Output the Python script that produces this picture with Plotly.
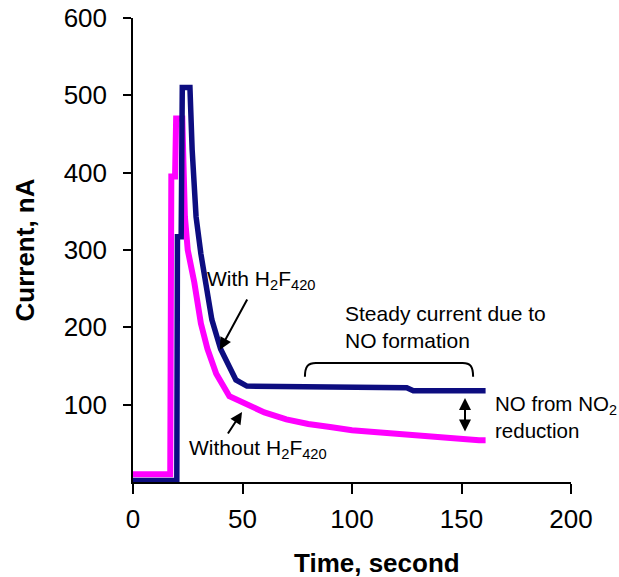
import plotly.graph_objects as go

# Without H2F420 (magenta)
t_without = [0, 17, 17.5, 19.2, 19.7, 22.5, 23.7, 25, 28, 31, 34, 38, 44, 50, 60, 70, 80, 90, 100, 113, 125, 136, 148, 158, 161]
i_without = [10, 10, 395, 395, 470, 470, 343, 300, 258, 205, 172, 140, 111, 103, 90, 81, 75, 71, 67, 64, 61, 58, 56, 54, 54]

# With H2F420 (navy)
t_with = [0, 20, 20.3, 22, 22.5, 26, 27, 28.8, 31, 33, 36, 40, 44, 47, 52, 125, 128, 161]
i_with = [2, 2, 317, 317, 510, 510, 430, 343, 295, 258, 210, 172, 148, 132, 124, 122, 118, 118]

x_ticks = [0, 50, 100, 150, 200]
y_ticks = [100, 200, 300, 400, 500, 600]

FONT = "Arial, Liberation Sans, sans-serif"

fig = go.Figure()
fig.add_trace(go.Scatter(x=t_without, y=i_without, mode="lines",
                         line=dict(color="#ff00ff", width=6), name="Without H2F420"))
fig.add_trace(go.Scatter(x=t_with, y=i_with, mode="lines",
                         line=dict(color="#0d0d80", width=5.5), name="With H2F420"))

ann_font = dict(family=FONT, size=21, color="black")
annotations = [
    dict(x=33.0, y=261, text="With H<sub>2</sub>F<sub>420</sub>", xanchor="left", yanchor="middle", font=ann_font),
    dict(x=24.5, y=42.7, text="Without H<sub>2</sub>F<sub>420</sub>", xanchor="left", yanchor="middle", font=ann_font),
    dict(x=95.9, y=200, text="Steady current due to<br>NO formation", xanchor="left", yanchor="middle",
         align="left", font=ann_font),
    dict(x=164.6, y=84, text="NO from NO<sub>2</sub><br>reduction", xanchor="left", yanchor="middle",
         align="left", font=dict(family=FONT, size=20.5, color="black")),
]
for a in annotations:
    fig.add_annotation(**a, showarrow=False, xref="x", yref="y")

# x-axis title (offset to the right of the plot centre, as in the reference)
fig.add_annotation(x=111.4, y=0, xref="x", yref="paper", yshift=-81, showarrow=False,
                   text="<b>Time, second</b>", xanchor="center", yanchor="middle",
                   font=dict(family=FONT, size=26, color="black"))

# arrows
arrow_common = dict(text="", showarrow=True, arrowcolor="black", arrowwidth=2,
                    arrowhead=2, arrowsize=1.2, xref="x", yref="y", axref="x", ayref="y")
fig.add_annotation(x=39.7, y=171, ax=52.5, ay=238, **arrow_common)
fig.add_annotation(x=49.8, y=90.6, ax=42.9, ay=60.8, **arrow_common)
fig.add_annotation(x=151.6, y=108.7, ax=151.6, ay=63.4, arrowside="end+start",
                   **arrow_common)

# bracket
fig.add_shape(type="path", xref="x", yref="y",
              path="M 78.5 136 C 78.5 150, 80 154, 83.5 154 L 150.5 154 C 154 154, 155.3 150, 155.3 136",
              line=dict(color="black", width=2))

fig.update_layout(
    width=619, height=577,
    margin=dict(l=133, r=48, t=18, b=95, autoexpand=False),
    paper_bgcolor="white", plot_bgcolor="white",
    showlegend=False,
    font=dict(family=FONT, color="black"),
)
fig.update_xaxes(range=[0, 200], tickvals=x_ticks, showgrid=False, zeroline=False,
                 showline=True, linecolor="black", linewidth=1.5, automargin=False,
                 ticks="outside", ticklen=10, tickwidth=1.5, tickcolor="black",
                 tickfont=dict(family=FONT, size=26, color="black"),
                 ticklabelstandoff=3, ticklabeloverflow="allow")
fig.update_yaxes(range=[0, 600], tickvals=y_ticks, showgrid=False, zeroline=False,
                 showline=True, linecolor="black", linewidth=1.5, automargin=False,
                 ticks="outside", ticklen=8, tickwidth=1.5, tickcolor="black",
                 tickfont=dict(family=FONT, size=26, color="black"),
                 ticklabelstandoff=11, ticklabeloverflow="allow",
                 title=dict(text="<b>Current, nA</b>", font=dict(family=FONT, size=26, color="black"),
                            standoff=22))

fig.write_html("out.html", config={"displayModeBar": False},
               post_script="document.body.style.margin='0';")
